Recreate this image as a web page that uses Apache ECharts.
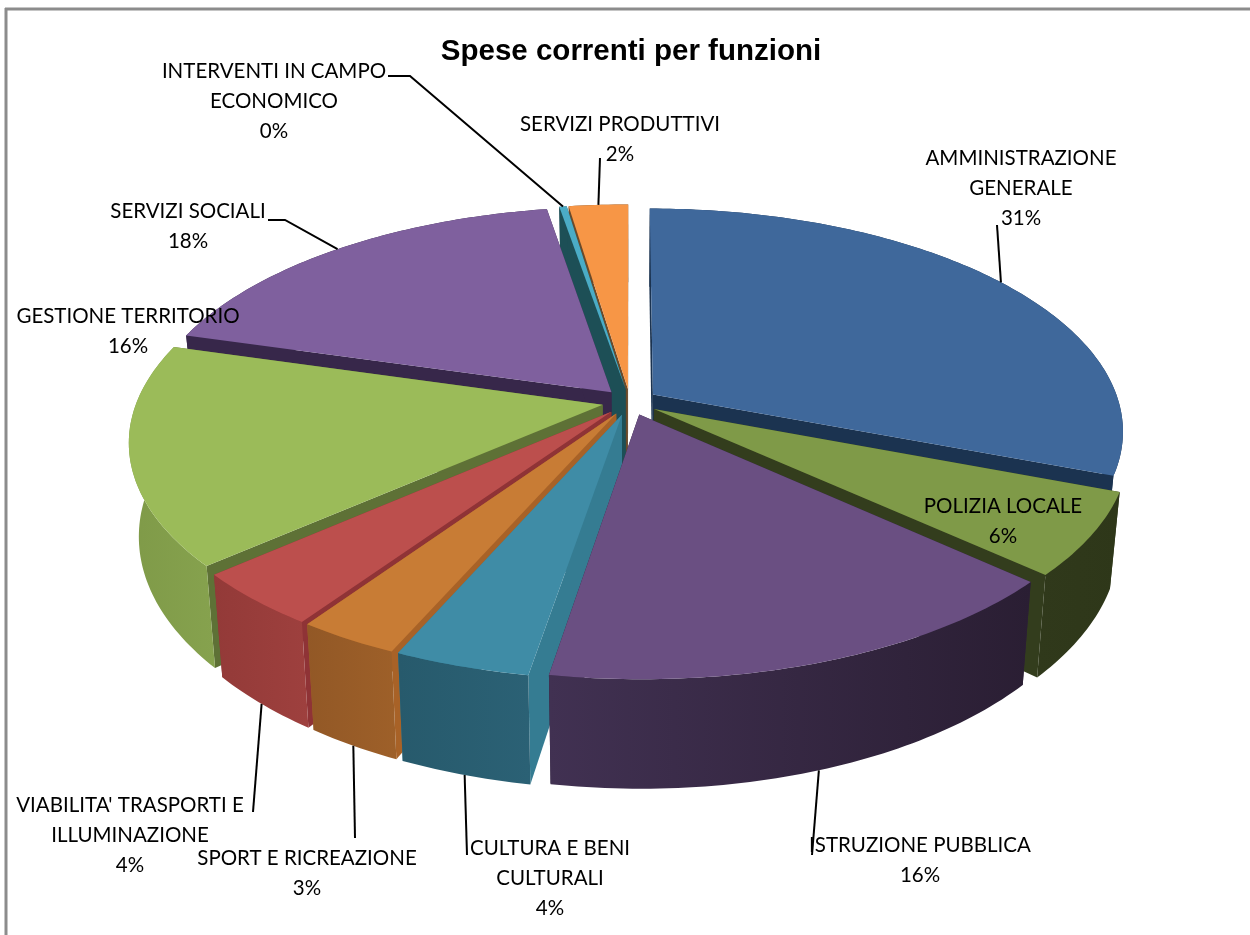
<!DOCTYPE html>
<html><head><meta charset="utf-8">
<script src="https://cdn.jsdelivr.net/npm/echarts@6/dist/echarts.min.js"></script>
<style>html,body{margin:0;padding:0;background:#fff}#c{width:1250px;height:935px}</style>
</head><body><div id="c"></div>
<script>
// ---- data ----
var categories = ["AMMINISTRAZIONE\nGENERALE","POLIZIA LOCALE","ISTRUZIONE PUBBLICA","CULTURA E BENI\nCULTURALI","SPORT E RICREAZIONE","VIABILITA' TRASPORTI E\nILLUMINAZIONE","GESTIONE TERRITORIO","SERVIZI SOCIALI","INTERVENTI IN CAMPO\nECONOMICO","SERVIZI PRODUTTIVI"];
var values = [31,6,16,4,3,4,16,18,0.3,2.4];
var titleText = "Spese correnti per funzioni";

// ---- styles ----
var topColors  = ["#3F689B","#7F9A48","#6A4F82","#3F8CA6","#C87C35","#BC4F4D","#9BBB59","#7F609E","#4BACC6","#F79646"];
var wallLeft   = ["#1B3350","#30391B","#413152","#2B6175","#9E6029","#9E403E","#86A24E","#37274A","#1D4F56","#6B4A2A"];
var wallRight  = ["#1B3350","#2E3719","#2A1E33","#275A6C","#925826","#933A38","#7F9A48","#37274A","#1D4F56","#6B4A2A"];
var radialColors=["#1B3350","#333D1D","#2D2039","#357C92","#A86227","#8F3336","#5E7136","#37274A","#1D4F56","#6B4A2A"];
var drawOrder = [9,8,7,0,6,1,5,4,3,2];

// ---- layout ----
var CX=630, CY=402, RX=466, RY=218, K=0.16, H=91, EXPLODE=0.06, BOTTOM_SCALE=0.98;
var labelCenter = [[1021,188],[1003,521],[920,860],[550,878],[307,873],[130,835],[128,331],[188,226],[274,101],[620,139]];
var leaderFrom  = [[[997,225]],null,[[812,855]],[[467,855]],[[355,838]],[[253,812]],null,[[268,220],[285,220]],[[388,76],[410,76]],[[600,158]]];
var leaderOnBottom = [false,false,true,true,true,true,false,false,false,false];
var FONT="Lato, 'Open Sans', sans-serif";

var total = values.reduce(function(a,b){return a+b;},0);
var starts=[], ends=[]; (function(){var c=0; values.forEach(function(v,i){starts[i]=c/total*2*Math.PI; c+=v; ends[i]=c/total*2*Math.PI;});})();

function project(u,v,low){
  var f=1/(1-K*v);
  var x=RX*u*f, y=RY*v*f;
  if(low){ x*=BOTTOM_SCALE; y+=H*f; }
  return [CX+x, CY+y];
}
function pt(i,theta,r,low){
  var mid=(starts[i]+ends[i])/2;
  return project(r*Math.sin(theta)+EXPLODE*Math.sin(mid), -r*Math.cos(theta)-EXPLODE*Math.cos(mid), low);
}
function arc(i,low,rev){
  var n=Math.max(4,Math.ceil((ends[i]-starts[i])*60)), out=[];
  for(var s=0;s<=n;s++){ var t=starts[i]+(ends[i]-starts[i])*s/n; out.push(pt(i,t,1,low)); }
  return rev?out.reverse():out;
}
function renderSlice(params,api){
  var i=api.value(0), rank=drawOrder.indexOf(i)*10+10;
  var apexT=pt(i,0,0,false), apexB=pt(i,0,0,true);
  var a=arc(i,false,false), b=arc(i,true,true);
  var sT=a[0], eT=a[a.length-1], sB=b[b.length-1], eB=b[0];
  var left=Math.sin((starts[i]+ends[i])/2)<0;
  return {type:'group',children:[
    {type:'polygon',z2:rank,shape:{points:[apexT,sT,sB,apexB]},style:{fill:radialColors[i]}},
    {type:'polygon',z2:rank+1,shape:{points:[apexT,eT,eB,apexB]},style:{fill:radialColors[i]}},
    {type:'polygon',z2:rank+2,shape:{points:a.concat(b)},style:{fill:new echarts.graphic.LinearGradient(0,0,1,0,
       [{offset:0,color:left?wallRight[i]:wallLeft[i]},
        {offset:1,color:left?wallLeft[i]:wallRight[i]}])}},
    {type:'polygon',z2:rank+3,shape:{points:[apexT].concat(a)},style:{fill:topColors[i]}}
  ]};
}
function renderLabel(params,api){
  var i=api.value(0), kids=[];
  var mid=(starts[i]+ends[i])/2;
  if(leaderFrom[i]){
    var anchor=pt(i,mid,1,leaderOnBottom[i]);
    kids.push({type:'polyline',z2:200,shape:{points:leaderFrom[i].concat([anchor])},
      style:{stroke:'#000',lineWidth:2,fill:null}});
  }
  var pct=Math.round(api.value(1)/total*100)+'%';
  kids.push({type:'text',z2:210,style:{text:categories[i]+'\n'+pct,x:labelCenter[i][0],y:labelCenter[i][1],
    textAlign:'center',textVerticalAlign:'middle',font:"20.5px "+FONT,lineHeight:30,fill:'#000'}});
  return {type:'group',children:kids};
}
var seriesData=values.map(function(v,i){return [i,v];});
var chart=echarts.init(document.getElementById('c'),null,{renderer:'canvas'});
chart.setOption({
  animation:false,
  backgroundColor:'#fff',
  title:{text:titleText,left:626,top:32,textAlign:'center',textStyle:{fontFamily:"'Liberation Sans',Arial,sans-serif",fontWeight:'bold',fontSize:29.5,color:'#000'}},
  graphic:[
    {type:'line',z:-1,shape:{x1:5,y1:9,x2:1250,y2:9},style:{stroke:'#8C8C8C',lineWidth:3}},
    {type:'line',z:-1,shape:{x1:6,y1:8,x2:6,y2:935},style:{stroke:'#8C8C8C',lineWidth:3}}
  ],
  series:[
    {type:'custom',coordinateSystem:'none',silent:true,renderItem:renderSlice,data:seriesData,z:2},
    {type:'custom',coordinateSystem:'none',silent:true,renderItem:renderLabel,data:seriesData,z:3}
  ]
});
</script></body></html>
